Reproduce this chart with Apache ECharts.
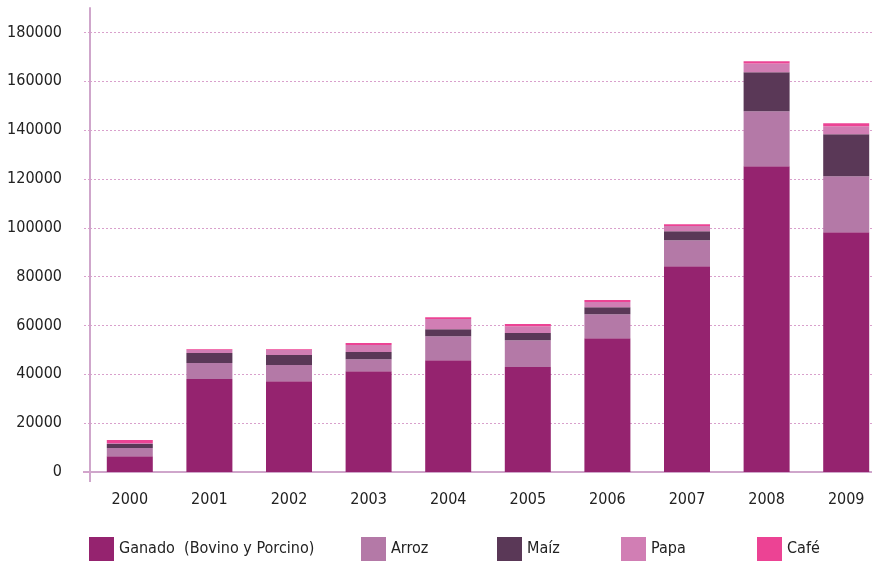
<!DOCTYPE html>
<html>
<head>
<meta charset="utf-8">
<script src="https://cdn.jsdelivr.net/npm/echarts@6/dist/echarts.min.js"></script>
<style>html,body{margin:0;padding:0;background:#fff;overflow:hidden}#c{width:886px;height:561px}</style>
</head>
<body>
<div id="c"></div>
<script>
var years = ['2000','2001','2002','2003','2004','2005','2006','2007','2008','2009'];
var seriesNames = ['Ganado  (Bovino y Porcino)', 'Arroz', 'Maíz', 'Papa', 'Café'];
var ganado = [6500, 38100, 37200, 41300, 45800, 43000, 54800, 84300, 125200, 98200];
var arroz  = [3300, 6500, 6600, 4900, 9800, 11000, 9800, 10600, 22500, 22900];
var maiz   = [1700, 4100, 4100, 2900, 2900, 2900, 2900, 3700, 16000, 17200];
var papa   = [400, 1300, 2100, 2900, 4100, 2800, 2100, 2100, 3600, 3300];
var cafe   = [1200, 300, 300, 800, 800, 900, 800, 800, 900, 1200];
var yTicks = [0, 20000, 40000, 60000, 80000, 100000, 120000, 140000, 160000, 180000];

var colors = ['#95236F', '#B479A7', '#5A3857', '#D17EB4', '#EC4394'];
var values = [ganado, arroz, maiz, papa, cafe];
var legendLefts = [89, 361, 497, 621, 757];
var FONT = "'Liberation Sans Narrow', 'Arial Narrow', 'DejaVu Sans Condensed', sans-serif";

var chart = echarts.init(document.getElementById('c'));
var series = seriesNames.map(function (n, i) {
  return {
    name: n, type: 'bar', stack: 'total', data: values[i], barWidth: 46,
    itemStyle: { color: colors[i] }
  };
});
var legends = seriesNames.map(function (n, i) {
  return {
    data: [n], left: legendLefts[i], top: 537, itemWidth: 25, itemHeight: 24,
    itemGap: 5, padding: 0, icon: 'rect',
    textStyle: { fontFamily: FONT, fontSize: 16, color: '#222' }
  };
});
chart.setOption({
  animation: false,
  color: colors,
  grid: { left: 90, right: 0, top: 8, bottom: 89 },
  legend: legends,
  xAxis: {
    type: 'category', data: years,
    axisLine: { lineStyle: { color: '#CFA6CB', width: 2 } },
    axisTick: { show: false },
    axisLabel: { fontFamily: FONT, fontSize: 16, color: '#222', margin: 20 }
  },
  yAxis: {
    type: 'value', min: 0, max: 190000, interval: 20000,
    axisLine: { show: true, lineStyle: { color: '#CFA6CB', width: 2 } },
    axisTick: { show: true, length: 6, lineStyle: { color: '#D9A0CC', type: [2, 2] } },
    axisLabel: {
      fontFamily: FONT, fontSize: 16, color: '#222', margin: 28, showMaxLabel: false,
      formatter: function (v) { return yTicks.indexOf(v) >= 0 ? String(v) : ''; }
    },
    splitLine: { show: true, showMinLine: false, showMaxLine: false, lineStyle: { color: '#D9A0CC', type: [2, 2], width: 1 } }
  },
  series: series
});
var p0 = chart.convertToPixel({ gridIndex: 0 }, [0, 0]);
var xAxisLeft = 90;
chart.setOption({
  graphic: [
    { type: 'line', shape: { x1: xAxisLeft, y1: p0[1], x2: xAxisLeft, y2: p0[1] + 10 }, style: { stroke: '#CFA6CB', lineWidth: 2 } },
    { type: 'line', shape: { x1: xAxisLeft - 7, y1: p0[1], x2: xAxisLeft, y2: p0[1] }, style: { stroke: '#CFA6CB', lineWidth: 2 } }
  ]
});
</script>
</body>
</html>
